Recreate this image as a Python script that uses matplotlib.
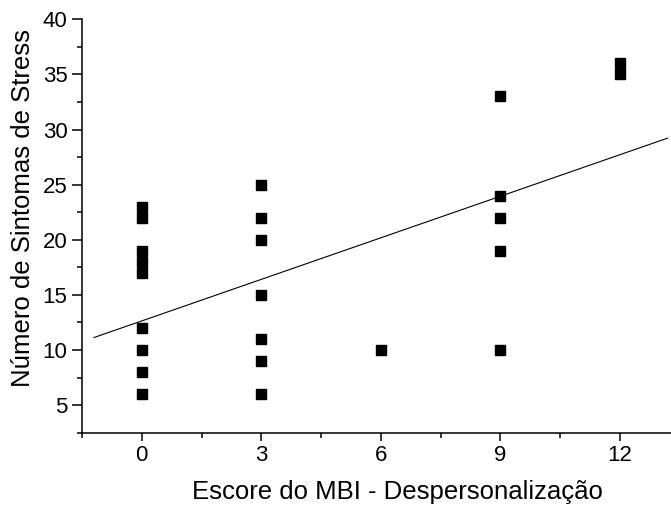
import matplotlib
matplotlib.use("Agg")
import matplotlib.pyplot as plt
import numpy as np
from matplotlib.ticker import MultipleLocator

plt.rcParams['font.family'] = ['Liberation Sans', 'DejaVu Sans']

# Data
x0_vals = [23, 22, 19, 18, 17, 12, 10, 8, 6]
x3_vals = [25, 22, 20, 15, 11, 9, 6]
x6_vals = [10]
x9_vals = [33, 24, 22, 19, 10]
x12_vals = [36, 35]
groups_x = [0, 3, 6, 9, 12]
groups_y = [x0_vals, x3_vals, x6_vals, x9_vals, x12_vals]

fit_intercept = 12.64
fit_slope = 1.256
fit_x_range = [-1.2, 13.2]

xticks = [0, 3, 6, 9, 12]
yticks = [5, 10, 15, 20, 25, 30, 35, 40]

W, H = 671, 512
fig = plt.figure(figsize=(W/100, H/100), dpi=100)
ax = fig.add_axes([82/W, 1 - 432.7/H, (141 + 13.5*39.89 - 82)/W, (432.7 - 19.3)/H])

xs = np.concatenate([[gx]*len(gy) for gx, gy in zip(groups_x, groups_y)])
ys = np.concatenate([gy for gy in groups_y])
ax.plot(xs, ys, linestyle='none', marker='s', markersize=6.7, color='black', clip_on=False)

fx = np.array(fit_x_range)
ax.plot(fx, fit_intercept + fit_slope*fx, color='black', linewidth=0.8)

ax.set_xlim(-1.5, 13.5)
ax.set_ylim(2.5, 40)
ax.set_xticks(xticks)
ax.set_yticks(yticks)
ax.xaxis.set_minor_locator(MultipleLocator(1.5))
ax.yaxis.set_minor_locator(MultipleLocator(2.5))

for s in ['top', 'right']:
    ax.spines[s].set_visible(False)
for s in ['left', 'bottom']:
    ax.spines[s].set_linewidth(1.1)

ax.tick_params(which='major', direction='out', width=1.1, labelsize=16)
ax.tick_params(axis='y', which='major', length=7, pad=3.5)
ax.tick_params(axis='x', which='major', length=5.5, pad=3.5)
ax.tick_params(which='minor', direction='out', length=3.5, width=1.1)

fig.text(397/W, 1 - 498.7/H, 'Escore do MBI - Despersonalização', fontsize=18.5,
         ha='center', va='baseline')
fig.text(23/W, 1 - 208/H, 'Número de Sintomas de Stress', fontsize=18.5,
         ha='center', va='center', rotation=90)

fig.savefig('out.png', dpi=100)
